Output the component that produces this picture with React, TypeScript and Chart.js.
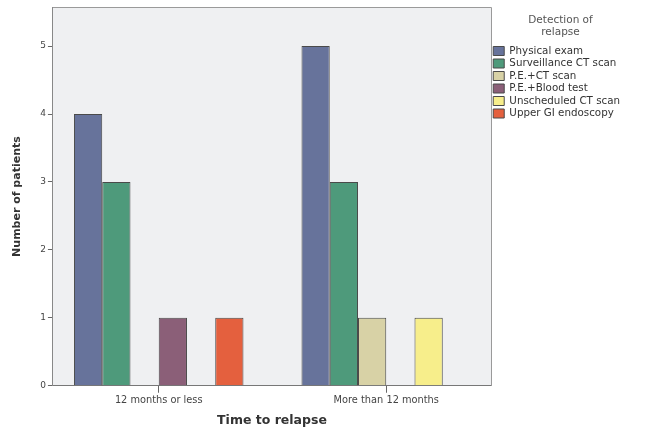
import React, { useEffect, useRef } from "react";
import { Chart, registerables } from "chart.js";

Chart.register(...registerables);

const categories = ["12 months or less", "More than 12 months"];
const seriesNames = [
  "Physical exam",
  "Surveillance CT scan",
  "P.E.+CT scan",
  "P.E.+Blood test",
  "Unscheduled CT scan",
  "Upper GI endoscopy",
];
const physicalExam = [4, 5];
const surveillanceCT = [3, 3];
const peCT = [null, 1];
const peBloodTest = [1, null];
const unscheduledCT = [null, 1];
const upperGIEndoscopy = [1, null];
const seriesColors = ["#67739b", "#4e9a7b", "#d8d2a6", "#8b5f78", "#f7ee8b", "#e4603e"];
const yTicks = [0, 1, 2, 3, 4, 5];

const FONT = "'DejaVu Sans', Verdana, sans-serif";

const plotFrame = {
  id: "plotFrame",
  beforeDraw(chart: any) {
    const { ctx, chartArea: a } = chart;
    ctx.save();
    ctx.fillStyle = "#eff0f2";
    ctx.fillRect(a.left, a.top, a.right - a.left, a.bottom - a.top);
    ctx.restore();
  },
  afterDraw(chart: any) {
    const { ctx, chartArea: a } = chart;
    ctx.save();
    ctx.strokeStyle = "#9a9a9a";
    ctx.lineWidth = 1;
    ctx.beginPath();
    ctx.moveTo(Math.round(a.left), Math.round(a.top) + 0.5);
    ctx.lineTo(Math.round(a.right) + 0.5, Math.round(a.top) + 0.5);
    ctx.lineTo(Math.round(a.right) + 0.5, Math.round(a.bottom));
    ctx.stroke();
    ctx.restore();
  },
};

export default function App() {
  const ref = useRef<HTMLCanvasElement | null>(null);

  useEffect(() => {
    document.body.style.margin = "0";
    const values = [physicalExam, surveillanceCT, peCT, peBloodTest, unscheduledCT, upperGIEndoscopy];
    const datasets = seriesNames.map((name, s) => ({
      label: name,
      data: categories.map((_, i) => ({ x: i, y: values[s][i] })),
      backgroundColor: seriesColors[s],
      borderColor: "#4a4a4a",
      borderWidth: 1,
      categoryPercentage: 0.745,
      barPercentage: 1,
    }));
    const chart = new Chart(ref.current as HTMLCanvasElement, {
      type: "bar",
      data: { datasets } as any,
      plugins: [plotFrame],
      options: {
        animation: false,
        responsive: false,
        maintainAspectRatio: false,
        layout: { padding: { left: 5, top: 7, right: 15, bottom: 2 } },
        plugins: {
          tooltip: { enabled: false },
          legend: {
            position: "right",
            align: "start",
            title: {
              display: true,
              text: ["Detection of", "relapse"],
              color: "#555",
              font: { family: FONT, size: 10.5 },
              padding: { top: 7.75, bottom: 16.3 },
            } as any,
            labels: {
              boxWidth: 11,
              boxHeight: 9,
              padding: 2.2,
              color: "#333",
              font: { family: FONT, size: 10.3 },
            },
          },
        },
        scales: {
          x: {
            type: "linear",
            min: -0.465,
            max: 1.4605,
            offset: false,
            afterBuildTicks: (s: any) => {
              s.ticks = categories.map((_, i) => ({ value: i }));
            },
            grid: { drawOnChartArea: false, offset: false, tickLength: 7, color: "#666" },
            border: { display: true, color: "#777" },
            ticks: {
              callback: (v: any) => categories[v] ?? "",
              color: "#444",
              font: { family: FONT, size: 9.8 },
              padding: 1.5,
              maxRotation: 0,
              autoSkip: false,
            },
            title: {
              display: true,
              text: "Time to relapse",
              color: "#333",
              font: { family: FONT, size: 12.5, weight: "bold" },
              padding: { top: 5.5, bottom: 0 },
            },
          } as any,
          y: {
            min: 0,
            max: 5.57,
            afterBuildTicks: (s: any) => {
              s.ticks = yTicks.map((v) => ({ value: v }));
            },
            grid: { drawOnChartArea: false, tickLength: 5, color: "#666" },
            border: { display: true, color: "#888" },
            ticks: {
              color: "#444",
              font: { family: FONT, size: 9 },
              padding: 2,
            },
            title: {
              display: true,
              text: "Number of patients",
              color: "#333",
              font: { family: FONT, size: 11, weight: "bold" },
              padding: { top: 6, bottom: 14 },
            },
          } as any,
        },
      },
    });
    return () => chart.destroy();
  }, []);

  return (
    <div style={{ width: 645, height: 430, background: "#fff" }}>
      <canvas ref={ref} width={645} height={430} style={{ display: "block" }} />
    </div>
  );
}
